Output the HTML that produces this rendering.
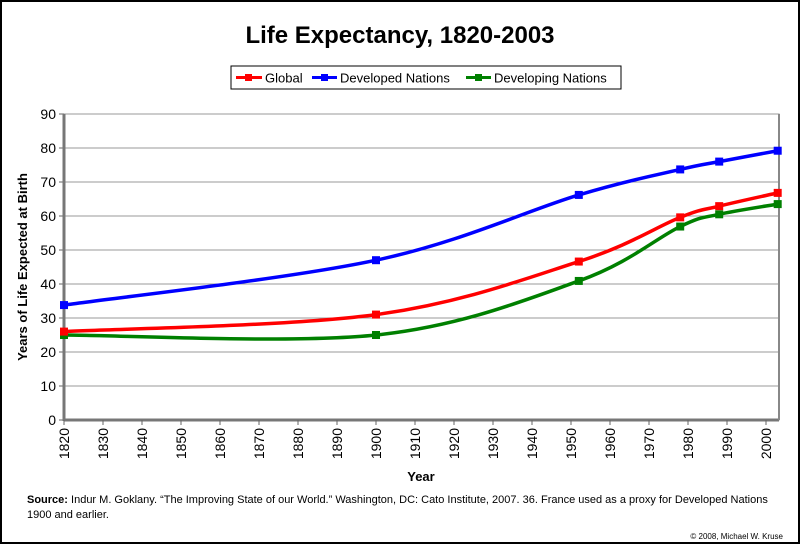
<!DOCTYPE html>
<html><head><meta charset="utf-8"><style>
body{margin:0;background:#fff}
svg{display:block;font-family:"Liberation Sans",Arial,sans-serif}
</style></head><body>
<svg id="c" width="800" height="544">
<rect x="1" y="1" width="798" height="542" fill="#fff" stroke="#000" stroke-width="2"/>
<text x="400" y="43" text-anchor="middle" font-size="24" font-weight="bold">Life Expectancy, 1820-2003</text>
<g>
<rect x="231" y="66" width="390" height="23" fill="#fff" stroke="#000" stroke-width="1"/>
<g><line x1="236" y1="77.5" x2="262" y2="77.5" stroke="#f00" stroke-width="3"/><rect x="245" y="74" width="7" height="7" fill="#f00"/><text x="265" y="82.5" font-size="13">Global</text></g>
<g><line x1="312" y1="77.5" x2="337" y2="77.5" stroke="#00f" stroke-width="3"/><rect x="321" y="74" width="7" height="7" fill="#00f"/><text x="340" y="82.5" font-size="13">Developed Nations</text></g>
<g><line x1="466" y1="77.5" x2="491" y2="77.5" stroke="#008000" stroke-width="3"/><rect x="475" y="74" width="7" height="7" fill="#008000"/><text x="494" y="82.5" font-size="13">Developing Nations</text></g>
</g>
<g id="grid"></g><g id="axes"></g><g id="series"></g>
<text transform="translate(27,267) rotate(-90)" text-anchor="middle" font-size="13" font-weight="bold">Years of Life Expected at Birth</text>
<text x="421" y="481" text-anchor="middle" font-size="13" font-weight="bold">Year</text>
<text x="27" y="503" font-size="11"><tspan font-weight="bold">Source:</tspan> Indur M. Goklany. “The Improving State of our World.” Washington, DC: Cato Institute, 2007. 36. France used as a proxy for Developed Nations</text>
<text x="27" y="518" font-size="11">1900 and earlier.</text>
<text x="783" y="539" text-anchor="end" font-size="8">© 2008, Michael W. Kruse</text>
</svg>
<script>
const years=[1820,1900,1952,1978,1988,2003];
const globalVals=[26,31,46.6,59.6,62.9,66.8];
const developedVals=[33.8,47,66.2,73.7,76,79.2];
const developingVals=[25,25,40.9,56.9,60.5,63.5];
const yTicks=[0,10,20,30,40,50,60,70,80,90];
const xTicks=[1820,1830,1840,1850,1860,1870,1880,1890,1900,1910,1920,1930,1940,1950,1960,1970,1980,1990,2000];
const NS='http://www.w3.org/2000/svg';
const L=64,R=779,T=114,B=420;
const xs=v=>L+(v-1820)*3.9;
const ys=v=>B-(v/90)*(B-T);
function mk(tag,attrs,parent){const e=document.createElementNS(NS,tag);for(const k in attrs)e.setAttribute(k,attrs[k]);parent.appendChild(e);return e;}
const grid=document.getElementById('grid'),axes=document.getElementById('axes'),ser=document.getElementById('series');
mk('rect',{x:L,y:T,width:R-L,height:B-T,fill:'#fff',stroke:'#888','stroke-width':1},grid);
yTicks.forEach(t=>{
 const g=mk('line',{x1:L,x2:R,y1:ys(t),y2:ys(t),stroke:'#999','stroke-width':1},grid);
 
 
 const tx=mk('text',{x:L-8,y:ys(t)+5,'text-anchor':'end','font-size':14},axes);tx.textContent=t;
 
 
 mk('line',{x1:L-5,x2:L,y1:ys(t),y2:ys(t),stroke:'#666','stroke-width':1},axes);
});
mk('line',{x1:L,x2:L,y1:T,y2:B+1,stroke:'#777','stroke-width':3},axes);
mk('line',{x1:L,x2:R,y1:B,y2:B,stroke:'#777','stroke-width':3},axes);
mk('line',{x1:R,x2:R,y1:T,y2:B,stroke:'#888','stroke-width':2},axes);
xTicks.forEach(t=>{
 mk('line',{x1:xs(t),x2:xs(t),y1:B,y2:B+5,stroke:'#666','stroke-width':1},axes);
 const tx=mk('text',{transform:`translate(${xs(t)+5},${B+8}) rotate(-90)`,'text-anchor':'end','font-size':14},axes);tx.textContent=t;
 
 
});
function path(vals){
 const p=years.map((y,i)=>[xs(y),ys(vals[i])]);
 let d=`M${p[0][0]},${p[0][1]}`;
 for(let i=0;i<p.length-1;i++){
  const p0=p[Math.max(i-1,0)],p1=p[i],p2=p[i+1],p3=p[Math.min(i+2,p.length-1)];
  const t=1/6;
  const c1=[p1[0]+(p2[0]-p0[0])*t,p1[1]+(p2[1]-p0[1])*t];
  const c2=[p2[0]-(p3[0]-p1[0])*t,p2[1]-(p3[1]-p1[1])*t];
  d+=` C${c1[0]},${c1[1]} ${c2[0]},${c2[1]} ${p2[0]},${p2[1]}`;
 }
 return d;
}
[['developing',developingVals,'#008000'],['global',globalVals,'#f00'],['developed',developedVals,'#00f']].forEach(([n,vals,c])=>{
 const g=mk('g',{},ser);
 
 
 mk('path',{d:path(vals),fill:'none',stroke:c,'stroke-width':3.5},g);
 years.forEach((y,i)=>{
  const m=mk('rect',{x:xs(y)-4,y:ys(vals[i])-4,width:8,height:8,fill:c},g);
  
  
 });
});
</script>
</body></html>
